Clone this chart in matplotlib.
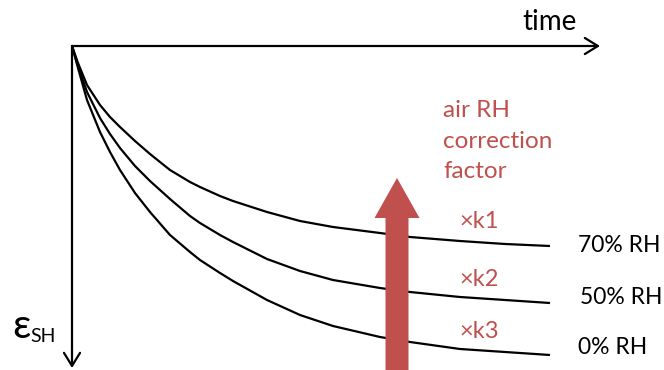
import matplotlib
matplotlib.use("Agg")
import matplotlib.pyplot as plt

# time / strain in pixel-scaled units measured from the origin (strain grows downward)
time_pts = [0, 6, 15, 28, 38, 48, 63, 78, 98, 118, 128, 148, 161, 195, 228, 261,
            308, 338, 388, 433, 478]
eps_70 = [0, 17, 39, 59, 71, 81, 95, 108, 124, 136, 141, 150, 155, 166, 175, 181,
          187, 191, 195, 198, 200]
eps_50 = [0, 20, 46, 72, 88, 102, 120, 135, 153, 170, 177, 189, 196, 213, 225, 234,
          242, 246, 251, 254, 257]
eps_0 = [0, 22, 54, 86, 106, 124, 147, 166, 189, 206, 214, 227, 235, 254, 269, 280,
         291, 296, 303, 306, 309]

curve_labels = ["70% RH", "50% RH", "0% RH"]
factor_labels = ["×k1", "×k2", "×k3"]

RED = "#C0504D"
INK = "black"
FONT = "Lato"

fig = plt.figure(figsize=(6.64, 3.70), dpi=100)
ax = fig.add_axes([0, 0, 1, 1])
ax.set_xlim(-72, 592)
ax.set_ylim(324, -46)
ax.set_axis_off()

# axes with open arrow heads
head = "->,head_length=0.47,head_width=0.29"
ax.annotate("", xy=(528, 0), xytext=(0, 0),
            arrowprops=dict(arrowstyle=head, lw=1.6, color=INK,
                            mutation_scale=20, shrinkA=0, shrinkB=0))
ax.annotate("", xy=(0, 322), xytext=(0, 0),
            arrowprops=dict(arrowstyle=head, lw=1.6, color=INK,
                            mutation_scale=20, shrinkA=0, shrinkB=0))

# strain curves with their end labels
for eps, lab, dx, dy in zip([eps_70, eps_50, eps_0], curve_labels,
                            [28, 30, 28], [-1, -5, -7]):
    ax.plot(time_pts, eps, color=INK, lw=1.6, solid_capstyle="butt", zorder=2)
    ax.text(time_pts[-1] + dx, eps[-1] + dy, lab, ha="left", va="center",
            fontsize=16.5, family=FONT, color=INK)

# big correction arrow
ax.arrow(325, 330, 0, -198, width=23, head_width=45, head_length=40,
         length_includes_head=True, color=RED, lw=0, zorder=3)

for eps, lab in zip([eps_70, eps_50, eps_0], factor_labels):
    ax.text(407, eps[-1] - 24, lab, ha="center", va="center",
            fontsize=17, family=FONT, color=RED)

ax.text(371, 95, "air RH\ncorrection\nfactor", ha="left", va="center",
        fontsize=17.5, family=FONT, color=RED, linespacing=1.55)

ax.text(450, -24, "time", ha="left", va="center", fontsize=20,
        family=FONT, color=INK)
ax.text(-60, 280, "ε", ha="left", va="center", fontsize=29, family=FONT, color=INK)
ax.text(-42, 290, "SH", ha="left", va="center", fontsize=14, family=FONT, color=INK)

fig.savefig("out.png", dpi=100, facecolor="white")
